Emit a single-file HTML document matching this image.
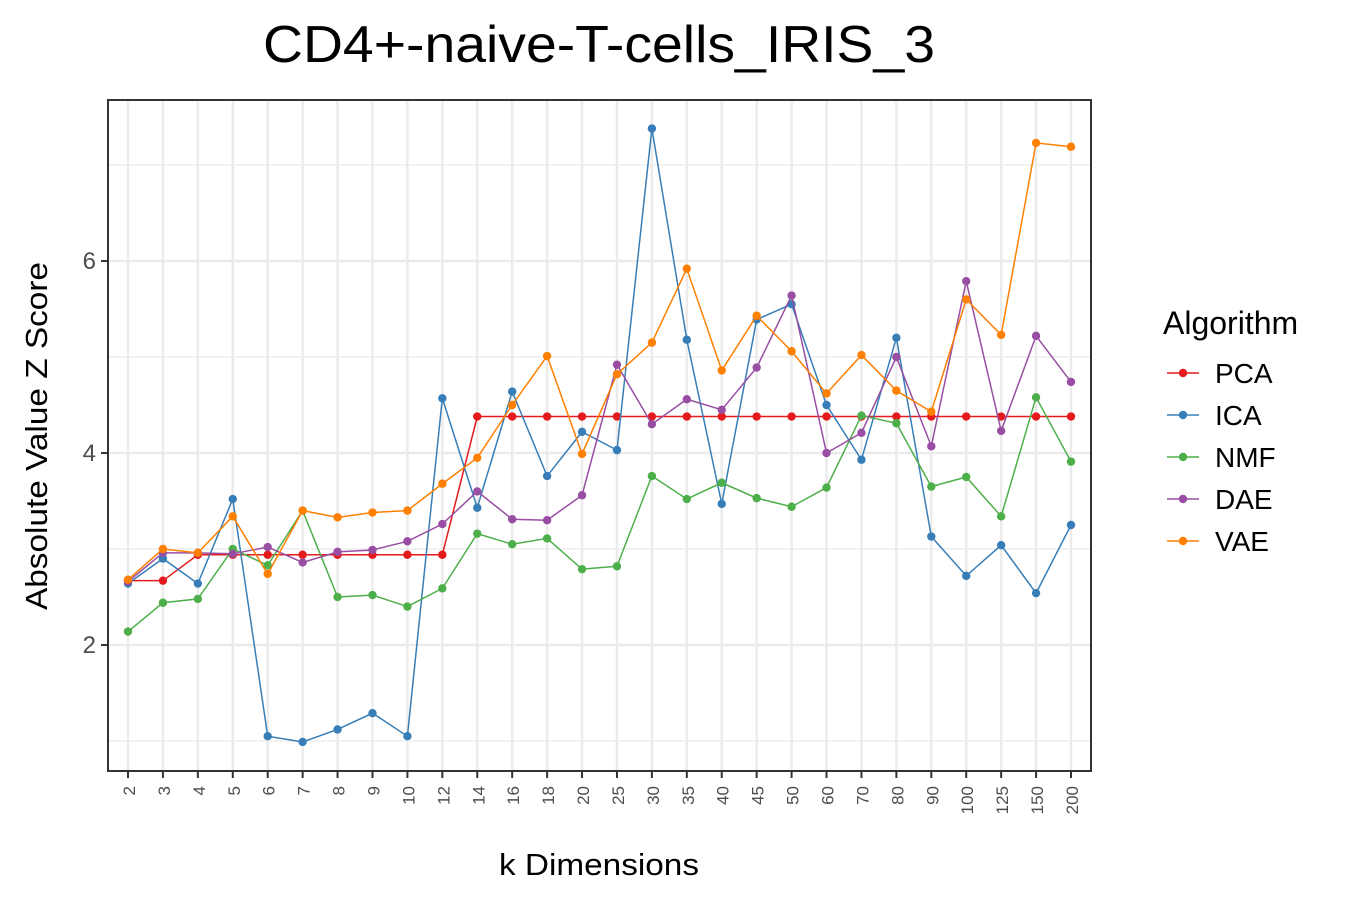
<!DOCTYPE html>
<html><head><meta charset="utf-8"><style>
html,body{margin:0;padding:0;background:#fff;}
svg{display:block;font-family:"Liberation Sans",Arial,sans-serif;}
</style></head><body>
<svg id="chart" width="1350" height="900" viewBox="0 0 1350 900" xmlns="http://www.w3.org/2000/svg">
<text x="599" y="62" font-size="52" text-anchor="middle" textLength="672" lengthAdjust="spacingAndGlyphs" fill="#000">CD4+-naive-T-cells_IRIS_3</text>
<g id="grid"></g><g id="series"></g><g id="axes"></g>
<text x="599" y="875" font-size="31" text-anchor="middle" textLength="200" lengthAdjust="spacingAndGlyphs" fill="#000">k Dimensions</text>
<text transform="translate(47,436) rotate(-90)" font-size="31" text-anchor="middle" textLength="348" lengthAdjust="spacingAndGlyphs" fill="#000">Absolute Value Z Score</text>
<g id="legend"></g>
</svg>
<script>
const categories=["2","3","4","5","6","7","8","9","10","12","14","16","18","20","25","30","35","40","45","50","60","70","80","90","100","125","150","200"];
const seriesNames=["PCA","ICA","NMF","DAE","VAE"];
const seriesColors=["#e41a1c","#377eb8","#4daf4a","#984ea3","#ff7f00"];
const pcaValues=[2.67,2.67,2.94,2.94,2.94,2.94,2.94,2.94,2.94,2.94,4.38,4.38,4.38,4.38,4.38,4.38,4.38,4.38,4.38,4.38,4.38,4.38,4.38,4.38,4.38,4.38,4.38,4.38];
const icaValues=[2.64,2.90,2.64,3.52,1.05,0.99,1.12,1.29,1.05,4.57,3.43,4.64,3.76,4.22,4.03,7.38,5.18,3.47,5.39,5.55,4.50,3.93,5.20,3.13,2.72,3.04,2.54,3.25];
const nmfValues=[2.14,2.44,2.48,3.00,2.83,3.40,2.50,2.52,2.40,2.59,3.16,3.05,3.11,2.79,2.82,3.76,3.52,3.69,3.53,3.44,3.64,4.39,4.31,3.65,3.75,3.34,4.58,3.91];
const daeValues=[2.66,2.96,2.96,2.95,3.02,2.86,2.97,2.99,3.08,3.26,3.60,3.31,3.30,3.56,4.92,4.30,4.56,4.45,4.89,5.64,4.00,4.21,5.00,4.07,5.79,4.23,5.22,4.74];
const vaeValues=[2.68,3.00,2.96,3.34,2.74,3.40,3.33,3.38,3.40,3.68,3.95,4.50,5.01,3.99,4.82,5.15,5.92,4.86,5.43,5.06,4.62,5.02,4.65,4.43,5.60,5.23,7.23,7.19];
const yTicks=[2,4,6];
const yMinor=[1,3,5,7];
const allSeries=[pcaValues,icaValues,nmfValues,daeValues,vaeValues];
const NS="http://www.w3.org/2000/svg";
const L=108,R=1091,T=100,B=771;
const x=i=>128+i*(1071-128)/(categories.length-1);
const y=v=>453-(v-4)*96;
function mk(tag,attrs,parent){const e=document.createElementNS(NS,tag);for(const k in attrs)e.setAttribute(k,attrs[k]);parent.appendChild(e);return e;}
const grid=document.getElementById('grid'),axes=document.getElementById('axes'),ser=document.getElementById('series'),leg=document.getElementById('legend');
mk('rect',{x:L,y:T,width:R-L,height:B-T,fill:'#fff'},grid);
yMinor.forEach(v=>{const l=mk('line',{x1:L,x2:R,y1:y(v),y2:y(v),stroke:'#ebebeb','stroke-width':1.2},grid);

});
yTicks.forEach(v=>{const l=mk('line',{x1:L,x2:R,y1:y(v),y2:y(v),stroke:'#ebebeb','stroke-width':2.4},grid);


const t=mk('line',{x1:L-7,x2:L,y1:y(v),y2:y(v),stroke:'#333','stroke-width':2},axes);


const tx=mk('text',{x:L-12,y:y(v)+8,'font-size':24,'text-anchor':'end',fill:'#4d4d4d'},axes);tx.textContent=v;

});
categories.forEach((c,i)=>{const l=mk('line',{x1:x(i),x2:x(i),y1:T,y2:B,stroke:'#ebebeb','stroke-width':2.4},grid);


const t=mk('line',{x1:x(i),x2:x(i),y1:B,y2:B+7,stroke:'#333','stroke-width':2},axes);


const tx=mk('text',{transform:`translate(${x(i)+7},${B+15}) rotate(-90)`,'font-size':17,'text-anchor':'end',fill:'#4d4d4d'},axes);tx.textContent=c;

});
const frame=mk('rect',{x:L,y:T,width:R-L,height:B-T,fill:'none',stroke:'#333','stroke-width':2},axes);


allSeries.forEach((vals,s)=>{const g=mk('g',{},ser);


const pl=mk('polyline',{points:vals.map((v,i)=>x(i)+','+y(v)).join(' '),fill:'none',stroke:seriesColors[s],'stroke-width':1.5},g);


vals.forEach((v,i)=>{const c=mk('circle',{cx:x(i),cy:y(v),r:4.2,fill:seriesColors[s]},g);

});});
const lt=mk('text',{x:1163,y:334,'font-size':32,fill:'#000'},leg);lt.textContent='Algorithm';


seriesNames.forEach((n,s)=>{const yy=373+s*42;const g=mk('g',{},leg);


mk('line',{x1:1167,x2:1199,y1:yy,y2:yy,stroke:seriesColors[s],'stroke-width':1.5},g);
mk('circle',{cx:1183,cy:yy,r:4.2,fill:seriesColors[s]},g);
const t=mk('text',{x:1215,y:yy+10,'font-size':28,fill:'#000'},g);t.textContent=n;});
</script>
</body></html>
